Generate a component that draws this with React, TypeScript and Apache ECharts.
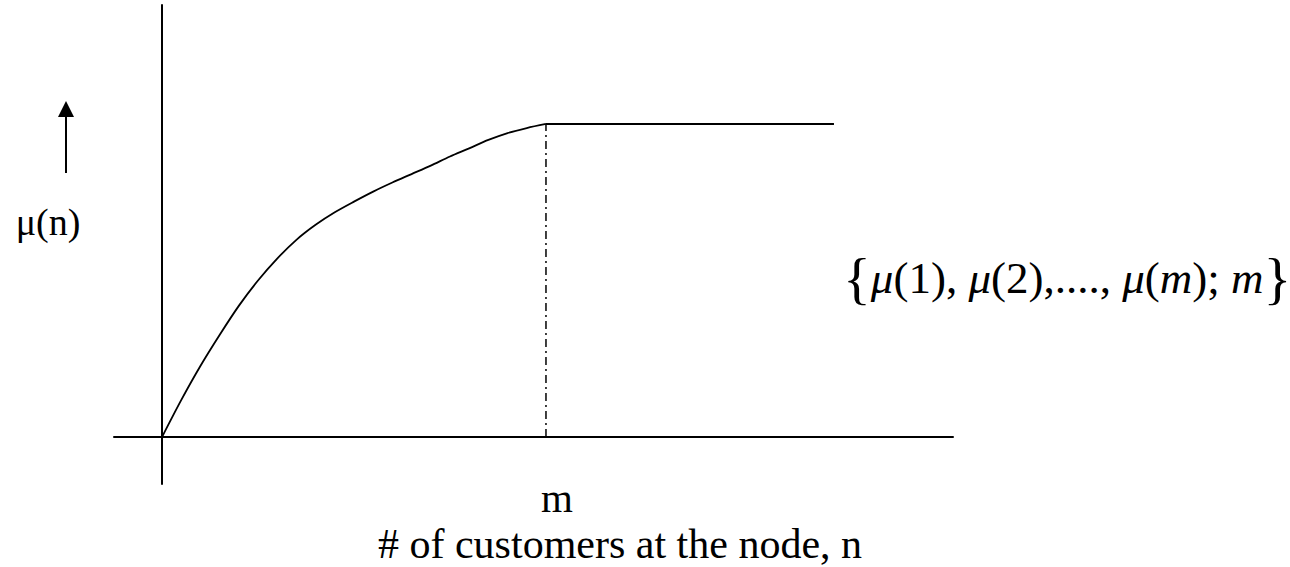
import React, { useEffect, useRef } from "react";
import * as echarts from "echarts";

// Curve mu(n) (x in units where m = 10, plateau level = 10)
const curveX = [0, 0.5, 1, 1.5, 2, 2.5, 3, 3.5, 4, 4.5, 5, 5.5, 6, 6.5, 7, 7.5, 8, 8.5, 9, 9.5, 10];
const curveY = [0, 1.18, 2.27, 3.26, 4.19, 5.0, 5.7, 6.3, 6.78, 7.18, 7.52, 7.84, 8.13, 8.4, 8.67, 8.96, 9.22, 9.49, 9.71, 9.87, 10];
const plateauX = [10, 17.5];
const plateauY = [10, 10];
const mValue = 10;
const xRange = [-1.25, 20.6];
const yRange = [-1.5, 13.8];
const yLabel = "μ(n)";
const mLabel = "m";
const xTitle = "# of customers at the node, n";

export default function App() {
  const ref = useRef<HTMLDivElement>(null);
  useEffect(() => {
    if (!ref.current) return;
    const chart = echarts.init(ref.current, undefined, { renderer: "svg" });
    const serif = "'Liberation Serif', 'Times New Roman', serif";
    const curve = curveX.map((x, i) => [x, curveY[i]]);
    const plateau = plateauX.map((x, i) => [x, plateauY[i]]);
    const dashed = [
      [mValue, 0],
      [mValue, plateauY[0]],
    ];
    chart.setOption({
      animation: false,
      backgroundColor: "#ffffff",
      grid: { left: 114, right: 337, top: 5, bottom: 83 },
      xAxis: {
        type: "value",
        min: xRange[0],
        max: xRange[1],
        axisLine: { onZero: true, lineStyle: { color: "#000", width: 2 } },
        axisTick: { show: false },
        axisLabel: { show: false },
        splitLine: { show: false },
      },
      yAxis: {
        type: "value",
        min: yRange[0],
        max: yRange[1],
        axisLine: { onZero: true, lineStyle: { color: "#000", width: 2 } },
        axisTick: { show: false },
        axisLabel: { show: false },
        splitLine: { show: false },
      },
      series: [
        {
          type: "line",
          data: curve,
          smooth: 0.3,
          symbol: "none",
          lineStyle: { color: "#000", width: 1.8 },
        },
        {
          type: "line",
          data: plateau,
          symbol: "none",
          lineStyle: { color: "#000", width: 2 },
        },
        {
          type: "line",
          data: dashed,
          symbol: "none",
          lineStyle: { color: "#000", width: 1.5, type: [8, 4, 2, 4] },
        },
      ],
      graphic: [
        {
          type: "line",
          shape: { x1: 66, y1: 173, x2: 66, y2: 112 },
          style: { stroke: "#000", lineWidth: 2 },
        },
        {
          type: "polygon",
          shape: { points: [[58, 117], [74, 117], [66, 101]] },
          style: { fill: "#000" },
        },
        {
          type: "text",
          x: 48,
          y: 222,
          style: {
            text: yLabel,
            font: `38px ${serif}`,
            fill: "#000",
            align: "center",
            verticalAlign: "middle",
          },
        },
        {
          type: "text",
          x: 557,
          y: 498,
          style: {
            text: mLabel,
            font: `41px ${serif}`,
            fill: "#000",
            align: "center",
            verticalAlign: "middle",
          },
        },
        {
          type: "text",
          x: 620,
          y: 544,
          style: {
            text: xTitle,
            font: `42px ${serif}`,
            fill: "#000",
            align: "center",
            verticalAlign: "middle",
          },
        },
        {
          type: "text",
          x: 843,
          y: 278,
          style: {
            text:
              "{b|{}{i|μ}{r|(1), }{i|μ}{r|(2),...., }{i|μ}{r|(}{i|m}{r|); }{i|m}}",
            font: `58px ${serif}`,
            fill: "#000",
            align: "left",
            verticalAlign: "middle",
            rich: {
              b: { font: `58px ${serif}`, verticalAlign: "middle" },
              i: { font: `italic 45px ${serif}`, verticalAlign: "middle" },
              r: { font: `45px ${serif}`, verticalAlign: "middle" },
            },
          },
        },
      ],
    });
    return () => chart.dispose();
  }, []);
  return (
    <div
      ref={ref}
      style={{ position: "fixed", left: 0, top: 0, width: 1290, height: 567 }}
    />
  );
}
